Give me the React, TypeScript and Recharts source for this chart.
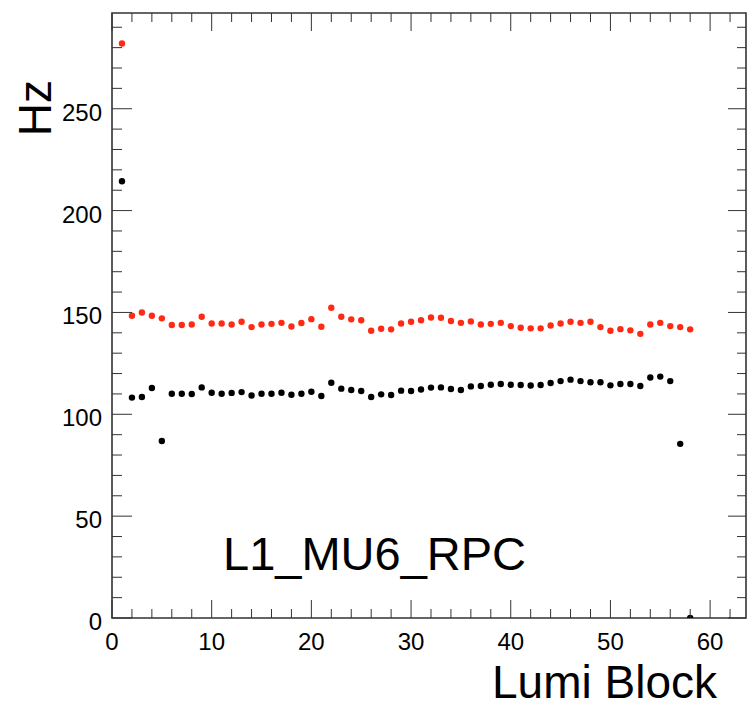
import { ReferenceArea, Scatter, ScatterChart, XAxis, YAxis } from 'recharts';

const lumiBlocks = [
  1, 2, 3, 4, 5, 6, 7, 8, 9, 10, 11, 12, 13, 14, 15, 16, 17, 18, 19, 20, 21, 22, 23, 24, 25, 26, 27, 28, 29,
  30, 31, 32, 33, 34, 35, 36, 37, 38, 39, 40, 41, 42, 43, 44, 45, 46, 47, 48, 49, 50, 51, 52, 53, 54, 55, 56,
  57, 58,
];

// red series (upper band)
const redRates = [
  282, 148.4, 150.0, 148.4, 147.1, 143.8, 143.8, 144.1, 147.9, 144.6, 144.6, 144.1, 145.4, 142.8, 144.1, 144.4,
  144.9, 143.1, 144.8, 146.7, 143.0, 152.3, 147.9, 146.6, 146.2, 141.0, 142.0, 141.7, 144.6, 145.4, 146.2, 147.5,
  147.4, 145.8, 144.9, 145.6, 144.1, 144.4, 144.9, 143.3, 142.5, 142.2, 142.2, 143.6, 144.6, 145.4, 144.9, 145.4,
  142.8, 141.0, 141.8, 141.2, 139.5, 144.1, 144.9, 143.3, 142.8, 141.7,
];

// black series (lower band)
const blackRates = [
  214.4, 108.2, 108.5, 112.9, 86.9, 110.1, 110.1, 110.0, 113.2, 110.6, 110.1, 110.5, 110.9, 109.2, 110.1, 110.1,
  110.6, 109.6, 110.1, 111.1, 109.0, 115.5, 112.6, 111.9, 111.4, 108.5, 109.8, 109.5, 111.6, 111.4, 112.2, 113.1,
  113.2, 112.4, 111.9, 113.7, 113.9, 114.5, 114.9, 114.5, 114.4, 114.1, 114.4, 115.4, 116.3, 117.0, 116.3, 115.7,
  115.7, 114.2, 114.9, 114.9, 113.9, 118.1, 118.5, 116.3, 85.5, 0,
];

const xTicks = [
  0, 2, 4, 6, 8, 10, 12, 14, 16, 18, 20, 22, 24, 26, 28, 30, 32, 34, 36, 38, 40, 42, 44, 46, 48, 50, 52, 54, 56,
  58, 60, 62,
];
const yTicks = [
  0, 10, 20, 30, 40, 50, 60, 70, 80, 90, 100, 110, 120, 130, 140, 150, 160, 170, 180, 190, 200, 210, 220, 230,
  240, 250, 260, 270, 280, 290,
];

const X_MAX = 63.6;
const Y_MAX = 297;

const WIDTH = 748;
const HEIGHT = 708;
const PLOT_TOP = 13;
const PLOT_RIGHT = 746;

const RED = '#ff2a14';
const FRAME = '#333';
const FONT = '"Liberation Sans", Arial, Helvetica, sans-serif';

const redData = lumiBlocks.map((lb, i) => ({ lb, hz: redRates[i] }));
const blackData = lumiBlocks.map((lb, i) => ({ lb, hz: blackRates[i] }));

const dot = (color: string) => (props: any) => (
  <circle cx={props.cx} cy={props.cy} r={3.2} fill={color} />
);

// ROOT-style frame ticks: inward, on both bottom and top
function XTick({ x, y, payload }: any) {
  const major = payload.value % 10 === 0;
  const len = major ? 18 : 9;
  return (
    <g>
      <line x1={x} y1={y} x2={x} y2={y - len} stroke={FRAME} strokeWidth={1} />
      <line x1={x} y1={PLOT_TOP} x2={x} y2={PLOT_TOP + len} stroke={FRAME} strokeWidth={1} />
      {major && (
        <text x={x} y={y + 32} textAnchor="middle" fontSize={24} fontFamily={FONT} fill="#000">
          {payload.value}
        </text>
      )}
    </g>
  );
}

function YTick({ x, y, payload }: any) {
  const major = payload.value % 50 === 0;
  const len = major ? 20 : 10;
  const rlen = major ? 18 : 9;
  return (
    <g>
      <line x1={x} y1={y} x2={x + len} y2={y} stroke={FRAME} strokeWidth={1} />
      <line x1={PLOT_RIGHT - rlen} y1={y} x2={PLOT_RIGHT} y2={y} stroke={FRAME} strokeWidth={1} />
      {major && (
        <text x={x - 10} y={y + 12} textAnchor="end" fontSize={24} fontFamily={FONT} fill="#000">
          {payload.value}
        </text>
      )}
    </g>
  );
}

export default function App() {
  return (
    <div style={{ position: 'absolute', left: 0, top: 0, width: WIDTH, height: HEIGHT, background: '#fff' }}>
      <ScatterChart
        width={WIDTH}
        height={HEIGHT}
        margin={{ top: PLOT_TOP, right: WIDTH - PLOT_RIGHT, left: 0, bottom: 0 }}
      >
        <XAxis
          type="number"
          dataKey="lb"
          domain={[0, X_MAX]}
          ticks={xTicks}
          interval={0}
          height={90}
          tickSize={0}
          tickMargin={0}
          axisLine={false}
          tickLine={false}
          tick={<XTick />}
          allowDataOverflow
        />
        <YAxis
          type="number"
          dataKey="hz"
          domain={[0, Y_MAX]}
          ticks={yTicks}
          interval={0}
          width={112}
          tickSize={0}
          tickMargin={0}
          axisLine={false}
          tickLine={false}
          tick={<YTick />}
          allowDataOverflow
        />
        <ReferenceArea x1={0} x2={X_MAX} y1={0} y2={Y_MAX} fill="none" stroke={FRAME} strokeWidth={1.6} />
        <Scatter data={blackData} shape={dot('#000')} isAnimationActive={false} />
        <Scatter data={redData} shape={dot(RED)} isAnimationActive={false} />
      </ScatterChart>
      <svg
        width={WIDTH}
        height={HEIGHT}
        style={{ position: 'absolute', left: 0, top: 0, pointerEvents: 'none' }}
      >
        <text x={223} y={570} fontSize={47} fontFamily={FONT} fill="#000">
          L1_MU6_RPC
        </text>
        <text x={717} y={698} fontSize={46} textAnchor="end" fontFamily={FONT} fill="#000">
          Lumi Block
        </text>
        <text
          transform="translate(51, 80) rotate(-90)"
          fontSize={46}
          textAnchor="end"
          fontFamily={FONT}
          fill="#000"
        >
          Hz
        </text>
      </svg>
    </div>
  );
}
